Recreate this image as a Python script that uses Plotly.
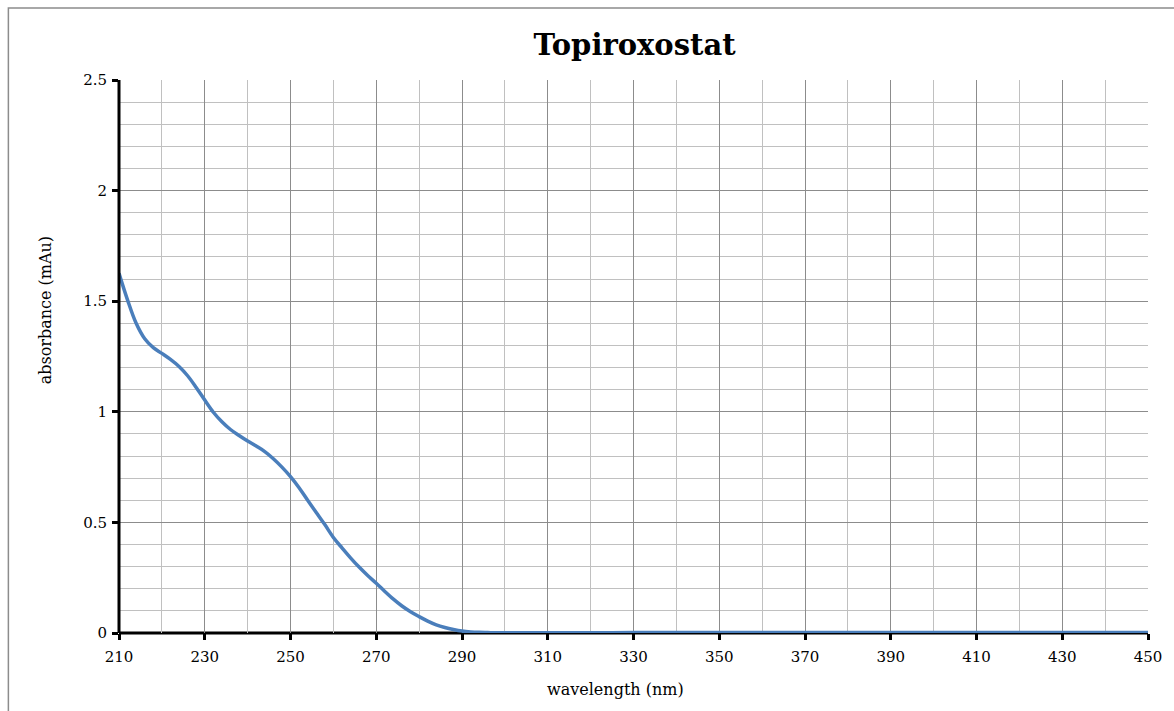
import plotly.graph_objects as go

wavelength = [210, 212, 214, 216, 218, 220, 222, 224, 226, 228, 230, 232, 234, 236, 238,
              240, 242, 244, 246, 248, 250, 252, 254, 256, 258, 260, 262, 264, 266, 268,
              270, 272, 274, 276, 278, 280, 282, 284, 286, 288, 290, 292, 294, 296, 298,
              300, 310, 320, 330, 340, 350, 360, 370, 380, 390, 400, 410, 420, 430, 440, 450]
absorbance = [1.626, 1.505, 1.40, 1.33, 1.29, 1.264, 1.237, 1.205, 1.163, 1.11, 1.053, 0.998,
              0.955, 0.92, 0.893, 0.868, 0.845, 0.82, 0.788, 0.75, 0.707, 0.657, 0.60, 0.545,
              0.49, 0.432, 0.385, 0.34, 0.298, 0.26, 0.225, 0.188, 0.153, 0.122, 0.096, 0.074,
              0.054, 0.037, 0.025, 0.016, 0.009, 0.005, 0.003, 0.002, 0.001, 0.001, 0.001,
              0.001, 0.002, 0.002, 0.002, 0.002, 0.002, 0.002, 0.002, 0.002, 0.002, 0.002,
              0.002, 0.002, 0.002]

title_text = "Topiroxostat"
x_title = "wavelength (nm)"
y_title = "absorbance (mAu)"

FONT = "DejaVu Serif"

fig = go.Figure()
fig.add_trace(go.Scatter(x=wavelength, y=absorbance, mode="lines",
                         line=dict(color="#4a7ebb", width=3.5, shape="spline", smoothing=1.0),
                         showlegend=False, hoverinfo="skip"))

fig.update_layout(
    width=1174, height=711,
    margin=dict(l=119, r=22, t=80, b=78),
    paper_bgcolor="white", plot_bgcolor="white",
    title=dict(text="<b>" + title_text + "</b>", x=0.5405, xanchor="center", y=0.937, yanchor="middle",
               font=dict(family=FONT, size=29, color="black")),
    font=dict(family=FONT, size=14, color="black"),
    xaxis=dict(range=[210, 450], dtick=20, tick0=210, showgrid=True, gridcolor="#8c8c8c", gridwidth=1,
               minor=dict(dtick=10, tick0=210, showgrid=True, gridcolor="#c0c0c0", gridwidth=1),
               ticks="outside", ticklen=6, tickwidth=3, tickcolor="black",
               showline=False, zeroline=False, ticklabelstandoff=4,
               tickfont=dict(family=FONT, size=15)),
    yaxis=dict(range=[0, 2.5], dtick=0.5, showgrid=True, gridcolor="#8c8c8c", gridwidth=1,
               minor=dict(dtick=0.1, showgrid=True, gridcolor="#c0c0c0", gridwidth=1),
               ticks="outside", ticklen=6, tickwidth=3, tickcolor="black",
               showline=False, zeroline=False, ticklabelstandoff=2,
               tickfont=dict(family=FONT, size=15)),
    annotations=[
        dict(text=x_title, xref="paper", yref="paper", x=(617.5 - 119) / 1033, y=-(689 - 633) / 553,
             xanchor="center", yanchor="middle", showarrow=False, font=dict(family=FONT, size=16)),
        dict(text=y_title, xref="paper", yref="paper", x=(45 - 119) / 1033, y=(633 - 310) / 553,
             xanchor="center", yanchor="middle", textangle=-90, showarrow=False,
             font=dict(family=FONT, size=16)),
    ],
    shapes=[
        dict(type="line", xref="paper", yref="paper", x0=0, x1=0, y0=0, y1=1,
             line=dict(color="black", width=3), layer="above"),
        dict(type="line", xref="paper", yref="paper", x0=0, x1=1, y0=0, y1=0,
             line=dict(color="black", width=3), layer="below"),
        dict(type="rect", xref="paper", yref="paper", x0=-0.1075, x1=1.1, y0=-0.3, y1=1.130,
             line=dict(color="#8c8c8c", width=1.5), fillcolor="rgba(0,0,0,0)"),
    ],
)

fig.write_html("out.html")
